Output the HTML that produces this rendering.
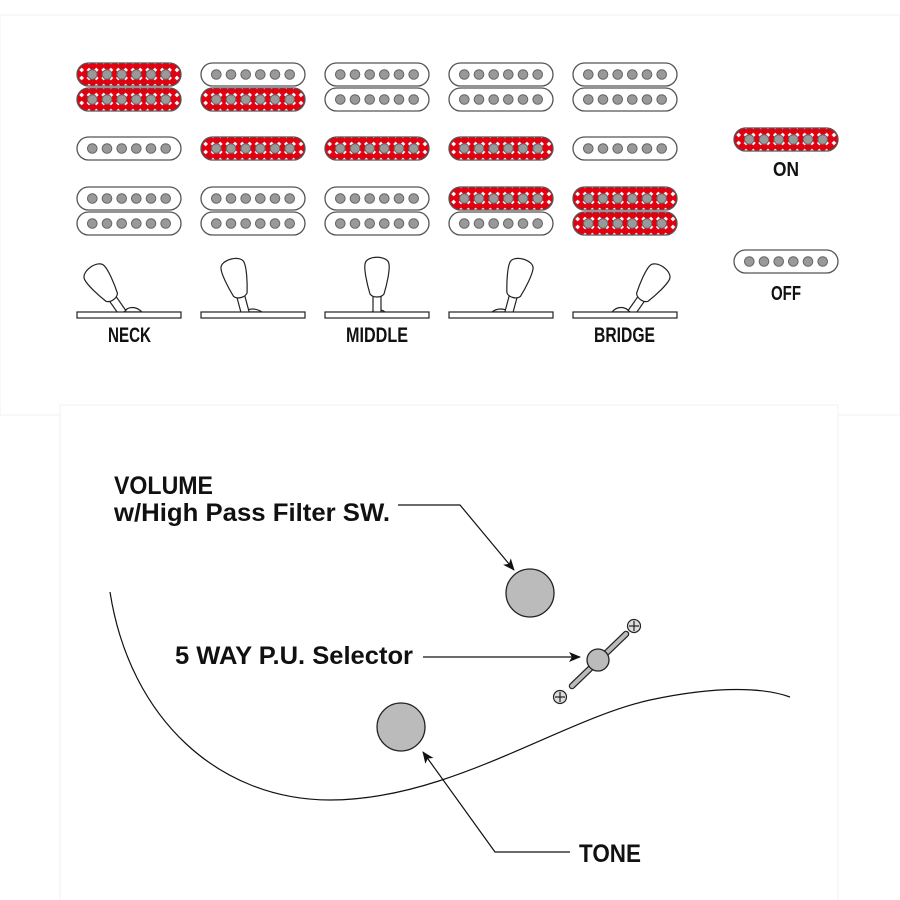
<!DOCTYPE html>
<html><head><meta charset="utf-8"><style>
html,body{margin:0;padding:0;background:#fff;}
svg{display:block;}
text{font-family:"Liberation Sans",sans-serif;font-weight:bold;fill:#111;}
</style></head><body>
<svg width="900" height="900" viewBox="0 0 900 900" xmlns="http://www.w3.org/2000/svg">
<defs>
<pattern id="rp" patternUnits="userSpaceOnUse" x="0.3" y="-0.5" width="7.33" height="8">
<rect width="7.33" height="8" fill="#e00010"/>
<path d="M3.66,1.6 L6,4 L3.66,6.4 L1.3,4Z" fill="#fff"/>
</pattern>
<g id="poles">
<circle cx="-36.7" cy="0" r="4.8"/><circle cx="-22" cy="0" r="4.8"/><circle cx="-7.3" cy="0" r="4.8"/>
<circle cx="7.3" cy="0" r="4.8"/><circle cx="22" cy="0" r="4.8"/><circle cx="36.7" cy="0" r="4.8"/>
</g>
<g id="pw">
<rect x="-52" y="-11.5" width="104" height="23" rx="11.5" fill="#fff" stroke="#555" stroke-width="1.3"/>
<use href="#poles" fill="#999" stroke="#666" stroke-width="1"/>
</g>
<g id="pr">
<rect x="-52" y="-11.5" width="104" height="23" rx="11.5" fill="url(#rp)" stroke="#555" stroke-width="1.3"/>
<use href="#poles" fill="#999" stroke="#666" stroke-width="1"/>
</g>
<g id="lever">
<path d="M-4,1 L-4,-18 L4,-18 L4,1Z" fill="#fff" stroke="#222" stroke-width="1.2"/>
<path d="M-7,-18 C-10,-28 -13,-42 -12,-48 C-11,-57 11,-57 12,-48 C13,-42 10,-28 7,-18 C4,-14 -4,-14 -7,-18Z" fill="#fff" stroke="#222" stroke-width="1.2"/>
</g>
<marker id="ar" markerWidth="12" markerHeight="10" refX="11" refY="5" orient="auto" markerUnits="userSpaceOnUse">
<path d="M0,0 L12,5 L0,10 L3,5Z" fill="#111"/>
</marker>
</defs>
<rect x="0" y="15" width="900" height="400" fill="#fff" stroke="#f2f2f2"/>
<rect x="60" y="405" width="778" height="500" fill="#fff" stroke="#f2f2f2"/>

<use href="#pr" x="129" y="74.5"/><use href="#pr" x="129" y="99.5"/>
<use href="#pw" x="129" y="148.5"/>
<use href="#pw" x="129" y="198.5"/><use href="#pw" x="129" y="223.5"/>
<use href="#pw" x="253" y="74.5"/><use href="#pr" x="253" y="99.5"/>
<use href="#pr" x="253" y="148.5"/>
<use href="#pw" x="253" y="198.5"/><use href="#pw" x="253" y="223.5"/>
<use href="#pw" x="377" y="74.5"/><use href="#pw" x="377" y="99.5"/>
<use href="#pr" x="377" y="148.5"/>
<use href="#pw" x="377" y="198.5"/><use href="#pw" x="377" y="223.5"/>
<use href="#pw" x="501" y="74.5"/><use href="#pw" x="501" y="99.5"/>
<use href="#pr" x="501" y="148.5"/>
<use href="#pr" x="501" y="198.5"/><use href="#pw" x="501" y="223.5"/>
<use href="#pw" x="625" y="74.5"/><use href="#pw" x="625" y="99.5"/>
<use href="#pw" x="625" y="148.5"/>
<use href="#pr" x="625" y="198.5"/><use href="#pr" x="625" y="223.5"/>

<use href="#pr" x="786" y="139.5"/>
<text x="773" y="176" font-size="20" textLength="26" lengthAdjust="spacingAndGlyphs">ON</text>
<use href="#pw" x="786" y="261.5"/>
<text x="771" y="300" font-size="20" textLength="30" lengthAdjust="spacingAndGlyphs">OFF</text>

<g stroke="#222" stroke-width="1.2" fill="#fff">
<path d="M124,312 C128,306 136,306 142,312Z"/>
<path d="M244,312 C249,308 256,308 262,312Z"/>
<path d="M372,312 C376,309 381,309 385,312Z"/>
<path d="M492,312 C497,308 504,308 510,312Z"/>
<path d="M612,312 C617,306 625,306 630,312Z"/>
</g>
<use href="#lever" transform="translate(122,312) rotate(-35)"/>
<use href="#lever" transform="translate(245,312) rotate(-15)"/>
<use href="#lever" transform="translate(377,312)"/>
<use href="#lever" transform="translate(509,312) rotate(15)"/>
<use href="#lever" transform="translate(632,312) rotate(35)"/>
<g fill="#fff" stroke="#222" stroke-width="1.2">
<rect x="77" y="312" width="104" height="6"/>
<rect x="201" y="312" width="104" height="6"/>
<rect x="325" y="312" width="104" height="6"/>
<rect x="449" y="312" width="104" height="6"/>
<rect x="573" y="312" width="104" height="6"/>
</g>
<text x="108" y="342" font-size="21" textLength="43" lengthAdjust="spacingAndGlyphs">NECK</text>
<text x="346" y="342" font-size="21" textLength="62" lengthAdjust="spacingAndGlyphs">MIDDLE</text>
<text x="594" y="342" font-size="21" textLength="61" lengthAdjust="spacingAndGlyphs">BRIDGE</text>

<path d="M110,592 C130,720 220,800 330,800 C450,800 560,720 650,700 C720,685 765,688 790,697" fill="none" stroke="#111" stroke-width="1.2"/>
<circle cx="530" cy="593" r="24" fill="#bbb" stroke="#222" stroke-width="1.3"/>
<circle cx="401" cy="727" r="24" fill="#bbb" stroke="#222" stroke-width="1.3"/>
<line x1="572" y1="686" x2="626" y2="634" stroke="#222" stroke-width="6.5" stroke-linecap="round"/>
<line x1="572" y1="686" x2="626" y2="634" stroke="#bbb" stroke-width="4" stroke-linecap="round"/>
<circle cx="598" cy="660" r="11" fill="#bbb" stroke="#222" stroke-width="1.3"/>
<g fill="#ddd" stroke="#222" stroke-width="1.2">
<circle cx="634" cy="626" r="6.5"/><circle cx="560" cy="697" r="6.5"/>
</g>
<g stroke="#222" stroke-width="1.2">
<line x1="629" y1="626" x2="639" y2="626"/><line x1="634" y1="621" x2="634" y2="631"/>
<line x1="555" y1="697" x2="565" y2="697"/><line x1="560" y1="692" x2="560" y2="702"/>
</g>

<text x="114" y="494" font-size="25" textLength="99" lengthAdjust="spacingAndGlyphs">VOLUME</text>
<text x="114" y="521" font-size="25" textLength="276" lengthAdjust="spacingAndGlyphs">w/High Pass Filter SW.</text>
<path d="M398,505 L460,505 L514,570" fill="none" stroke="#111" stroke-width="1.2" marker-end="url(#ar)"/>
<text x="175" y="664" font-size="25" textLength="238" lengthAdjust="spacingAndGlyphs">5 WAY P.U. Selector</text>
<path d="M423,657 L580,657" fill="none" stroke="#111" stroke-width="1.2" marker-end="url(#ar)"/>
<text x="579" y="862" font-size="25" textLength="62" lengthAdjust="spacingAndGlyphs">TONE</text>
<path d="M570,852 L495,852 L423,752" fill="none" stroke="#111" stroke-width="1.2" marker-end="url(#ar)"/>
</svg>
</body></html>
